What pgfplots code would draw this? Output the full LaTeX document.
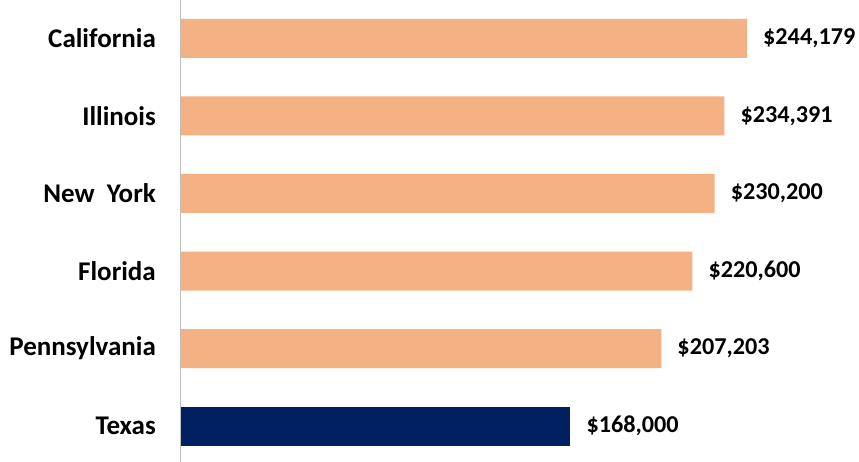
\documentclass[border=0pt]{standalone}
\usepackage{pgfplots}
\pgfplotsset{compat=1.18}
\usepackage{fontspec}
\setmainfont{Carlito}
\definecolor{peach}{RGB}{244,177,131}
\definecolor{navy}{RGB}{0,32,96}
\definecolor{axgray}{RGB}{191,191,191}
\begin{document}
\begin{tikzpicture}
\begin{axis}[
    name=ax,
    scale only axis,
    width=678pt, height=462pt,
    xmin=0, xmax=292500,
    ymin=-0.461, ymax=5.494,
    xbar, bar width=39pt, bar shift=0pt,
    axis x line=none,
    axis y line*=left,
    y axis line style={draw=axgray, line width=1pt},
    ytick={0,1,2,3,4,5},
    yticklabels={Texas,Pennsylvania,Florida,New~ York,Illinois,California},
    ytick style={draw=none},
    major tick length=0pt,
    yticklabel style={inner sep=0pt, xshift=-25pt, font=\bfseries\fontsize{27}{32}\selectfont},
    point meta=x,
    nodes near coords={\$\pgfmathprintnumber[fixed,precision=0,1000 sep={,},assume math mode=true]{\pgfplotspointmeta}},
    nodes near coords style={anchor=west, inner sep=0pt, xshift=16pt, font=\bfseries\fontsize{24.2}{29}\selectfont},
    clip=false
]
\addplot[fill=peach, draw=none] coordinates {
    (207203,1) (220600,2) (230200,3) (234391,4) (244179,5)
};
\addplot[fill=navy, draw=none] coordinates {
    (168000,0)
};
\end{axis}
\pgfresetboundingbox
\path ([xshift=-181pt]ax.south west) rectangle (ax.north east);
\end{tikzpicture}
\end{document}
